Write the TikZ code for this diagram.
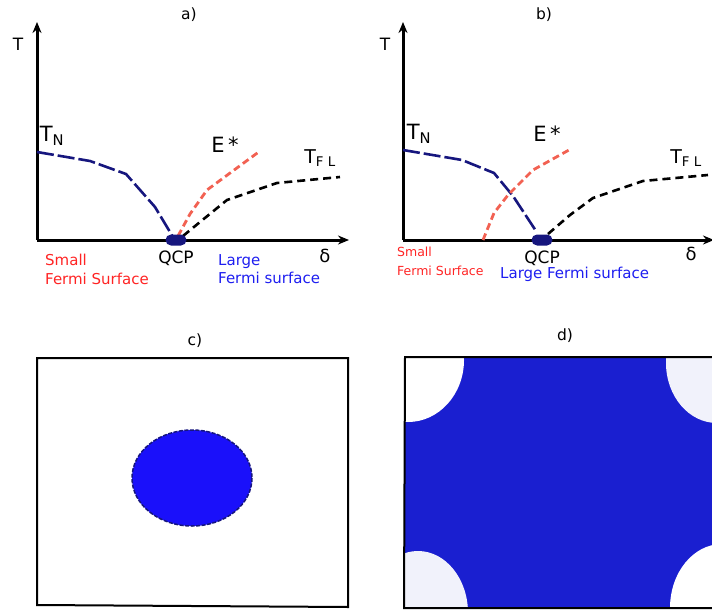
\documentclass[tikz,border=0pt]{standalone}
\usepackage{fontspec}
\setmainfont{DejaVu Sans}
\usetikzlibrary{shapes.geometric, shapes.misc, arrows.meta, positioning}
\definecolor{tnblue}{HTML}{16167E}
\definecolor{esalmon}{HTML}{F26152}
\definecolor{smallred}{HTML}{FF2424}
\definecolor{largeblue}{HTML}{1E1EF0}
\definecolor{fsblue}{HTML}{1A10FA}
\definecolor{bzblue}{HTML}{1A1FD0}
\definecolor{pocket}{HTML}{F1F2FB}

\begin{document}
\begin{tikzpicture}[
    x=1pt, y=-1pt,
    axis/.style={line width=3pt, -{Stealth[length=11pt,width=9pt]}},
    tnline/.style={tnblue, line width=2.6pt, dash pattern=on 17pt off 4pt},
    estar/.style={esalmon, line width=2.8pt, dash pattern=on 7pt off 4pt},
    tfl/.style={black, line width=2.6pt, dash pattern=on 8pt off 5pt},
    qcpdot/.style={rounded rectangle, fill=tnblue, inner sep=0pt, minimum width=21pt, minimum height=11pt},
    title/.style={font=\fontsize{15.5}{17}\selectfont},
    tlab/.style={font=\fontsize{21}{23}\selectfont},
    txt/.style={font=\fontsize{15}{18.5}\selectfont, align=left, anchor=north west, inner sep=0pt}
]
    \useasboundingbox (0,0) rectangle (712,610);

    % panel a
    \node (ta) [title] at (189,15) {a)};
    \coordinate (oa) at (37,240);
    \draw [axis] (oa) -- (37,22);
    \draw [axis] (oa) -- (349,240);
    \node (Ta) [font=\fontsize{17}{19}\selectfont] at (18,44) {T};
    \node (da) [font=\fontsize{18}{20}\selectfont] at (325,256) {δ};
    \draw [tnline] (37,152) -- (90,161) -- (126,174) -- (155,207) -- (173,237);
    \draw [estar] (178,236) -- (190,214) -- (207,190) -- (226,176) -- (260,151);
    \draw [tfl] (183,236) -- (200,222) -- (227,200) -- (277,183) -- (340,177);
    \node (qa) [qcpdot] at (176,240) {};
    \node (TNa) [tlab] at (52,136) {T\textsubscript{N}};
    \node (Ea) [tlab] at (225,145) {E$\,$*};
    \node (TFa) [font=\fontsize{19}{21}\selectfont] at (320,158) {T\textsubscript{F L}};
    \node (qla) [font=\fontsize{17}{19}\selectfont, below=2pt of qa] {QCP};
    \node (sa) [txt, smallred] at (45,254) {Small\\Fermi Surface};
    \node (la) [txt, largeblue] at (218,254) {Large\\Fermi surface};

    % panel b
    \node (tb) [title] at (544,15) {b)};
    \coordinate (ob) at (403,240);
    \draw [axis] (ob) -- (403,22);
    \draw [axis] (ob) -- (714,240);
    \node (Tb) [font=\fontsize{17}{19}\selectfont] at (385,44) {T};
    \node (db) [font=\fontsize{18}{20}\selectfont] at (691,254) {δ};
    \draw [tnline] (403,150) -- (462,160) -- (494,173) -- (513,196) -- (536,231);
    \draw [estar] (483,240) -- (494,213) -- (508,195) -- (533,170) -- (569,150);
    \draw [tfl] (548,234) -- (570,215) -- (593,198) -- (643,181) -- (708,175);
    \node (qb) [qcpdot] at (542,240) {};
    \node (TNb) [tlab] at (419,134) {T\textsubscript{N}};
    \node (Eb) [tlab] at (547,134) {E$\,$*};
    \node (TFb) [font=\fontsize{19}{21}\selectfont] at (686,158) {T\textsubscript{F L}};
    \node (qlb) [font=\fontsize{17}{19}\selectfont, below=2pt of qb] {QCP};
    \node (sb) [txt, smallred, font=\fontsize{12.5}{19}\selectfont] at (397,247) {Small\\Fermi Surface};
    \node (lb) [txt, largeblue, font=\fontsize{15}{16}\selectfont] at (500,267) {Large Fermi surface};

    % panel c
    \node (tc) [title] at (195,341) {c)};
    \draw [line width=2pt] (37,358) -- (348,358) -- (348,607) -- (37,605) -- cycle;
    \filldraw [fill=fsblue, draw=tnblue, line width=1.5pt, dash pattern=on 4pt off 1.5pt]
        (192,478) ellipse [x radius=60, y radius=48];

    % panel d
    \node (td) [title] at (565,336) {d)};
    \fill [bzblue] (405,357) rectangle (716,608);
    \begin{scope}
        \clip (405,357) rectangle (716,608);
        \fill [white] (408,360) ellipse [x radius=56, y radius=62];
        \fill [pocket] (717,363) ellipse [x radius=51, y radius=60];
        \fill [pocket] (418,613) ellipse [x radius=50, y radius=62];
        \fill [white] (722,608) ellipse [x radius=52, y radius=64];
    \end{scope}
    \draw [line width=2pt] (716,357) -- (405,357) -- (404,608) -- (716,608);
\end{tikzpicture}
\end{document}
